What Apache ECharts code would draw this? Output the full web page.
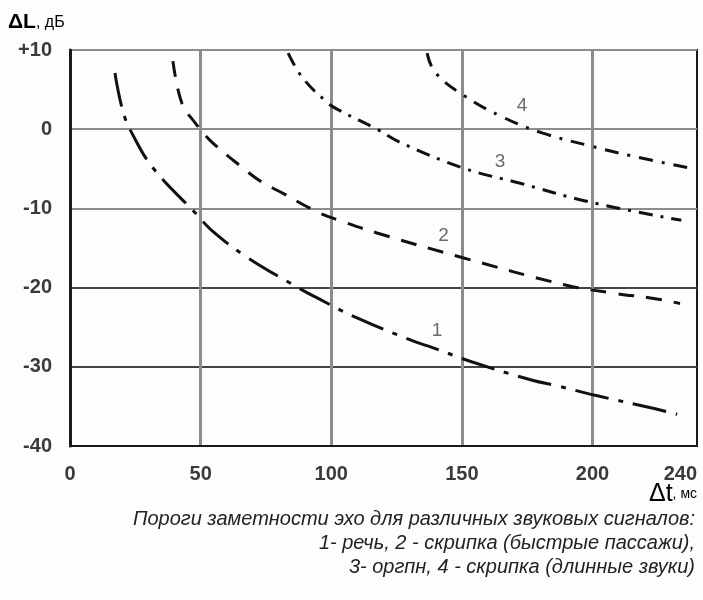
<!DOCTYPE html>
<html><head><meta charset="utf-8">
<script src="https://cdn.jsdelivr.net/npm/echarts@6/dist/echarts.min.js"></script>
<style>html,body{margin:0;padding:0;background:#fdfdfc;}#c{width:703px;height:600px;}</style>
</head><body><div id="c"></div>
<script>
const xTicks = [0, 50, 100, 150, 200, 240];
const yTicks = [-40, -30, -20, -10, 0, 10];
const curve1 = [[17.2,7.1],[20.3,2.2],[23.7,-0.5],[31.8,-4.9],[48.6,-10.8],[54,-12.7],[67,-16],[87.3,-20],[94.6,-21.3],[109,-23.7],[131,-26.7],[139,-27.6],[154,-29.4],[177,-31.7],[186.5,-32.4],[201,-33.6],[224,-35.3],[232.4,-36]];
const curve2 = [[39.4,8.6],[42.8,3.3],[47.9,0.8],[53.6,-1.4],[65.8,-4.8],[73.5,-6.7],[80.4,-7.9],[95,-10.5],[103,-11.5],[117.5,-13.1],[149,-16.1],[190,-19.7],[208,-20.7],[224,-21.4],[233.5,-22]];
const curve3 = [[83.5,9.6],[89,6.5],[98.4,3.4],[103,2.4],[117.5,0],[126,-1.6],[150.5,-4.9],[172,-6.8],[199,-9.2],[234,-11.5]];
const curve4 = [[136.7,9.6],[139.7,7.2],[150.5,4.3],[165.8,1.5],[181,-0.5],[199,-2.1],[214,-3.3],[237,-4.9]];
const curveLabels = [[140.5,-25.4,'1'],[143,-13.4,'2'],[164.6,-4.1,'3'],[173,3,'4']];
const captionLines = ['Пороги заметности эхо для различных звуковых сигналов:','1- речь, 2 - скрипка (быстрые пассажи),','3- оргпн, 4 - скрипка (длинные звуки)'];

const chart = echarts.init(document.getElementById('c'));
const font = '"Liberation Sans", Arial, sans-serif';
function curve(data, dash) {
  return { type:'line', data, smooth:0.4, symbol:'none', silent:true,
    lineStyle:{color:'#111', width:3, type:dash, cap:'butt'} };
}
const captionGraphics = captionLines.map((t, i) => ({
  type:'text', right:8, top:509 + i*24,
  style:{text:t, fontSize:20, fontStyle:'italic', fontFamily:font, fill:'#222'}
}));
chart.setOption({
  backgroundColor:'#fdfdfc',
  animation:false,
  grid:{left:70, right:6, top:50, bottom:154, show:true, borderColor:'#1a1a1a', borderWidth:2},
  xAxis:{type:'value', min:0, max:240,
    axisLine:{show:true, onZero:false, lineStyle:{color:'#1a1a1a', width:2}},
    axisTick:{show:false, customValues:xTicks.slice(0,5)},
    axisLabel:{customValues:xTicks, fontSize:20, fontWeight:'bold', color:'#3a3a3a', fontFamily:font, margin:18, alignMaxLabel:'right'},
    splitLine:{show:true, lineStyle:{color:'#8c8c8c', width:3}}},
  yAxis:{type:'value', min:-40, max:10, interval:10,
    axisLine:{show:true, onZero:false, lineStyle:{color:'#1a1a1a', width:3}},
    axisTick:{show:false},
    axisLabel:{fontSize:20, fontWeight:'bold', color:'#3a3a3a', fontFamily:font, margin:18, formatter:v=> v>0 ? '+'+v : ''+v},
    splitLine:{show:true, lineStyle:{color:['#8c8c8c','#444','#444','#8c8c8c','#8c8c8c','#8c8c8c'], width:2}}},
  series:[
    curve(curve1,[34,10,5,10]),
    curve(curve2,[16,12]),
    curve(curve3,[14,8,3,8]),
    curve(curve4,[14,9,3,9]),
    {type:'scatter', data:curveLabels, symbolSize:0, silent:true,
      label:{show:true, position:'inside', formatter:p=>p.data[2], fontSize:19, color:'#444', fontFamily:font}}
  ],
  graphic:[
    {type:'text', left:8, top:12, style:{rich:{a:{fontSize:21, fontWeight:'bold', fontFamily:font, color:'#222'}, b:{fontSize:16, fontFamily:font, color:'#222'}}, text:'{a|ΔL}{b|, дБ}'}},
    {type:'text', right:6, top:482, style:{rich:{a:{fontSize:25, fontFamily:font, color:'#222'}, b:{fontSize:14, fontFamily:font, color:'#222'}}, text:'{a|Δt}{b|, мс}'}}
  ].concat(captionGraphics)
});
</script></body></html>
